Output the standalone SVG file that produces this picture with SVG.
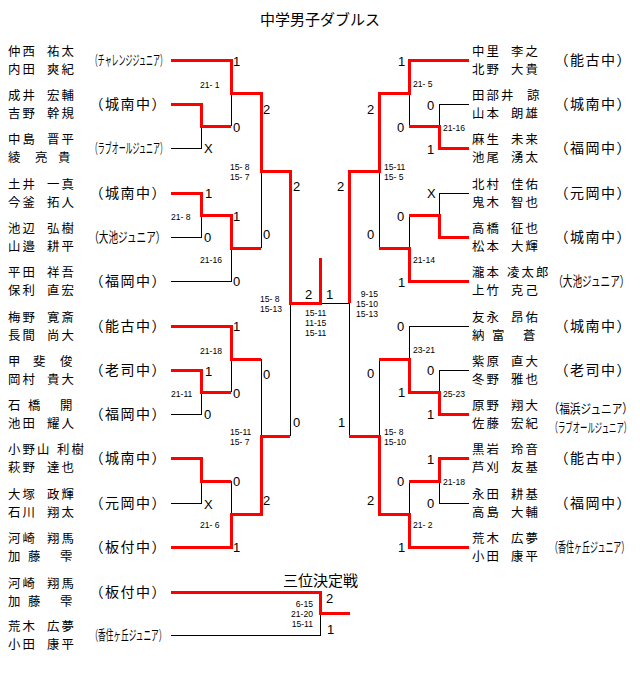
<svg xmlns="http://www.w3.org/2000/svg" width="640" height="697" viewBox="0 0 640 697" xml:space="preserve">
<style>
.r{stroke:#f00;stroke-width:3;fill:none;stroke-linejoin:miter}
.k{stroke:#000;stroke-width:1;fill:none}
.nm{font-family:"Noto Sans CJK JP","Noto Sans CJK SC",sans-serif;font-size:12.4px;letter-spacing:2.1px;fill:#000}
.tm{font-family:"Noto Sans CJK JP","Noto Sans CJK SC",sans-serif;font-size:14px;letter-spacing:1.5px;fill:#000}
.tc{font-family:"Noto Sans CJK JP","Noto Sans CJK SC",sans-serif;font-size:14px;fill:#000}
.tc2{font-family:"Noto Sans CJK JP","Noto Sans CJK SC",sans-serif;font-size:13px;fill:#000}
.ttl{font-family:"Noto Sans CJK JP","Noto Sans CJK SC",sans-serif;font-size:15px;fill:#000}
.sc{font-family:"Liberation Sans",Arial,sans-serif;font-size:13px;fill:#000}
.ss{font-family:"Liberation Sans",Arial,sans-serif;font-size:8.6px;fill:#000}
.e{text-anchor:end}
</style>
<rect width="640" height="697" fill="#fff"/>
<text class="ttl" x="320" y="24.5" text-anchor="middle">中学男子ダブルス</text>

<g id="connectors" shape-rendering="crispEdges">
<path class="k" d="M171,148H201V126M231,93V126M171,237H201V215M171,281H231V248M261,171V248M290,303V436M231,359V392M171,414H201V392M261,359V436M171,503H201V481M231,481V514M320,303H349M349,303V436"/>
<path class="k" d="M469,104H439V126M409,93V126M469,193H439V215M409,215V248M379,171V248M469,326H409V359M469,370H439V392M379,359V436M469,503H439V481M409,481V514"/>
<path class="k" d="M171,635H320V613"/>
<path class="r" d="M171,60H231V93H261V171H290V303H320V258"/>
<path class="r" d="M171,104H201V126H231"/>
<path class="r" d="M171,193H201V215H231V248H261"/>
<path class="r" d="M171,326H231V359H261"/>
<path class="r" d="M171,370H201V392H231"/>
<path class="r" d="M171,458H201V481H231"/>
<path class="r" d="M171,547H231V514H261V436H290"/>
<path class="r" d="M469,60H409V93H379V171H349V303"/>
<path class="r" d="M469,148H439V126H409"/>
<path class="r" d="M469,237H439V215H409"/>
<path class="r" d="M469,281H409V248H379"/>
<path class="r" d="M469,414H439V392H409V359H379"/>
<path class="r" d="M469,458H439V481H409"/>
<path class="r" d="M469,547H409V514H379V436H349"/>
<path class="r" d="M171,592H320V613H350"/>
</g>

<g id="L1"><text class="nm" x="8" y="56">仲西<tspan x="47">祐太</tspan></text><text class="nm" x="8" y="74">内田<tspan x="47">爽紀</tspan></text><text class="tc" transform="translate(90.8,65.3) scale(0.498,1)">（チャレンジジュニア）</text></g>
<g id="L2"><text class="nm" x="8" y="100">成井<tspan x="47">宏輔</tspan></text><text class="nm" x="8" y="118">吉野<tspan x="47">幹規</tspan></text><text class="tm" x="89.5" y="109.3">（城南中）</text></g>
<g id="L3"><text class="nm" x="8" y="144">中島<tspan x="47">晋平</tspan></text><text class="nm" x="8" y="162">綾<tspan x="35">亮</tspan><tspan x="58">貴</tspan></text><text class="tc" transform="translate(90.8,153.3) scale(0.498,1)">（ラブオールジュニア）</text></g>
<g id="L4"><text class="nm" x="8" y="189">土井<tspan x="47">一真</tspan></text><text class="nm" x="8" y="207">今釜<tspan x="47">拓人</tspan></text><text class="tm" x="89.5" y="198.3">（城南中）</text></g>
<g id="L5"><text class="nm" x="8" y="233">池辺<tspan x="47">弘樹</tspan></text><text class="nm" x="8" y="251">山邉<tspan x="47">耕平</tspan></text><text class="tc" transform="translate(89.2,242.3) scale(0.688,1)">（大池ジュニア）</text></g>
<g id="L6"><text class="nm" x="8" y="277">平田<tspan x="47">祥吾</tspan></text><text class="nm" x="8" y="295">保利<tspan x="47">直宏</tspan></text><text class="tm" x="89.5" y="286.3">（福岡中）</text></g>
<g id="L7"><text class="nm" x="8" y="322">梅野<tspan x="47">寛斎</tspan></text><text class="nm" x="8" y="340">長間<tspan x="47">尚大</tspan></text><text class="tm" x="89.5" y="331.3">（能古中）</text></g>
<g id="L8"><text class="nm" x="8" y="366">甲<tspan x="33">斐</tspan><tspan x="60">俊</tspan></text><text class="nm" x="8" y="384">岡村<tspan x="47">貴大</tspan></text><text class="tm" x="89.5" y="375.3">（老司中）</text></g>
<g id="L9"><text class="nm" x="8" y="410">石<tspan x="28">橋</tspan><tspan x="60">開</tspan></text><text class="nm" x="8" y="428">池田<tspan x="47">耀人</tspan></text><text class="tm" x="89.5" y="419.3">（福岡中）</text></g>
<g id="L10"><text class="nm" x="8" y="454">小野山<tspan x="57">利樹</tspan></text><text class="nm" x="8" y="472">萩野<tspan x="47">達也</tspan></text><text class="tm" x="89.5" y="463.3">（城南中）</text></g>
<g id="L11"><text class="nm" x="8" y="499">大塚<tspan x="47">政輝</tspan></text><text class="nm" x="8" y="517">石川<tspan x="47">翔太</tspan></text><text class="tm" x="89.5" y="508.3">（元岡中）</text></g>
<g id="L12"><text class="nm" x="8" y="543">河崎<tspan x="47">翔馬</tspan></text><text class="nm" x="8" y="561">加<tspan x="28">藤</tspan><tspan x="60">雫</tspan></text><text class="tm" x="89.5" y="552.3">（板付中）</text></g>

<g id="R1"><text class="nm" x="472" y="56">中里<tspan x="511">李之</tspan></text><text class="nm" x="472" y="74">北野<tspan x="511">大貴</tspan></text><text class="tm" x="554.5" y="65.3">（能古中）</text></g>
<g id="R2"><text class="nm" x="472" y="100">田部井<tspan x="527">諒</tspan></text><text class="nm" x="472" y="118">山本<tspan x="511">朗雄</tspan></text><text class="tm" x="554.5" y="109.3">（城南中）</text></g>
<g id="R3"><text class="nm" x="472" y="144">麻生<tspan x="511">未来</tspan></text><text class="nm" x="472" y="162">池尾<tspan x="511">湧太</tspan></text><text class="tm" x="554.5" y="153.3">（福岡中）</text></g>
<g id="R4"><text class="nm" x="472" y="189">北村<tspan x="511">佳佑</tspan></text><text class="nm" x="472" y="207">鬼木<tspan x="511">智也</tspan></text><text class="tm" x="554.5" y="198.3">（元岡中）</text></g>
<g id="R5"><text class="nm" x="472" y="233">高橋<tspan x="511">征也</tspan></text><text class="nm" x="472" y="251">松本<tspan x="511">大輝</tspan></text><text class="tm" x="554.5" y="242.3">（城南中）</text></g>
<g id="R6"><text class="nm" x="472" y="277">瀧本<tspan x="507">凌太郎</tspan></text><text class="nm" x="472" y="295">上竹<tspan x="511">克己</tspan></text><text class="tc" transform="translate(553.2,286.3) scale(0.688,1)">（大池ジュニア）</text></g>
<g id="R7"><text class="nm" x="472" y="322">友永<tspan x="511">昂佑</tspan></text><text class="nm" x="472" y="340">納<tspan x="492">富</tspan><tspan x="523">蒼</tspan></text><text class="tm" x="554.5" y="331.3">（城南中）</text></g>
<g id="R8"><text class="nm" x="472" y="366">紫原<tspan x="511">直大</tspan></text><text class="nm" x="472" y="384">冬野<tspan x="511">雅也</tspan></text><text class="tm" x="554.5" y="375.3">（老司中）</text></g>
<g id="R9"><text class="nm" x="472" y="410">原野<tspan x="511">翔大</tspan></text><text class="nm" x="472" y="428">佐藤<tspan x="511">宏紀</tspan></text><text class="tc2" transform="translate(548.5,413) scale(0.821,1)">（福浜ジュニア）</text><text class="tc2" transform="translate(550.5,432) scale(0.568,1)">（ラブオールジュニア）</text></g>
<g id="R10"><text class="nm" x="472" y="454">黒岩<tspan x="511">玲音</tspan></text><text class="nm" x="472" y="472">芦刈<tspan x="511">友基</tspan></text><text class="tm" x="554.5" y="463.3">（能古中）</text></g>
<g id="R11"><text class="nm" x="472" y="499">永田<tspan x="511">耕基</tspan></text><text class="nm" x="472" y="517">高島<tspan x="511">大輔</tspan></text><text class="tm" x="554.5" y="508.3">（福岡中）</text></g>
<g id="R12"><text class="nm" x="472" y="543">荒木<tspan x="511">広夢</tspan></text><text class="nm" x="472" y="561">小田<tspan x="511">康平</tspan></text><text class="tc" transform="translate(550.1,552.3) scale(0.571,1)">（香住ヶ丘ジュニア）</text></g>

<g id="T1"><text class="nm" x="8" y="588">河崎<tspan x="47">翔馬</tspan></text><text class="nm" x="8" y="606">加<tspan x="28">藤</tspan><tspan x="60">雫</tspan></text><text class="tm" x="89.5" y="597.3">（板付中）</text></g>
<g id="T2"><text class="nm" x="8" y="631">荒木<tspan x="47">広夢</tspan></text><text class="nm" x="8" y="649">小田<tspan x="47">康平</tspan></text><text class="tc" transform="translate(90.4,640.3) scale(0.547,1)">（香住ヶ丘ジュニア）</text></g>
<text class="ttl" x="283" y="585.5">三位決定戦</text>

<g id="scores">
<text class="sc" x="233" y="65.7">1</text><text class="sc" x="233" y="131.7">0</text><text class="sc" x="204" y="152.7">X</text><text class="sc" x="263" y="113.7">2</text><text class="sc" x="293" y="190.7">2</text><text class="sc" x="205" y="197.7">1</text><text class="sc" x="233" y="220.7">1</text><text class="sc" x="204" y="241.7">0</text><text class="sc" x="263" y="238.7">0</text><text class="sc" x="233" y="285.7">0</text><text class="sc" x="233" y="330.7">1</text><text class="sc" x="205" y="375.7">1</text><text class="sc" x="263" y="378.7">0</text><text class="sc" x="233" y="397.7">0</text><text class="sc" x="204" y="418.7">0</text><text class="sc" x="293" y="426.7">0</text><text class="sc" x="233" y="485.7">0</text><text class="sc" x="204" y="508.7">X</text><text class="sc" x="263" y="504.7">2</text><text class="sc" x="233" y="551.7">1</text>
<text class="sc" x="305" y="298.7">2</text><text class="sc" x="326" y="298.7">1</text>
<text class="sc" x="398" y="65.7">1</text><text class="sc" x="367" y="113.7">2</text><text class="sc" x="397" y="131.7">0</text><text class="sc" x="427" y="109.7">0</text><text class="sc" x="427" y="153.7">1</text><text class="sc" x="427" y="197.7">X</text><text class="sc" x="337" y="190.7">2</text><text class="sc" x="397" y="220.7">0</text><text class="sc" x="367" y="238.7">0</text><text class="sc" x="398" y="286.7">1</text><text class="sc" x="397" y="330.7">0</text><text class="sc" x="367" y="377.7">0</text><text class="sc" x="427" y="374.7">0</text><text class="sc" x="398" y="396.7">1</text><text class="sc" x="427" y="418.7">1</text><text class="sc" x="338" y="426.7">1</text><text class="sc" x="427" y="463.7">1</text><text class="sc" x="397" y="485.7">0</text><text class="sc" x="427" y="507.7">0</text><text class="sc" x="367" y="504.7">2</text><text class="sc" x="398" y="551.7">1</text>
<text class="sc" x="326" y="602.7">2</text><text class="sc" x="327" y="633.7">1</text>
<text class="ss" x="200" y="87.5">21- 1</text><text class="ss" x="230" y="170">15- 8</text><text class="ss" x="230" y="180">15- 7</text><text class="ss" x="171" y="219.5">21- 8</text><text class="ss" x="200" y="262.5">21-16</text><text class="ss" x="260" y="302">15- 8</text><text class="ss" x="260" y="312">15-13</text><text class="ss" x="200" y="353.5">21-18</text><text class="ss" x="171" y="396.5">21-11</text><text class="ss" x="230" y="435">15-11</text><text class="ss" x="230" y="445">15- 7</text><text class="ss" x="200" y="527.5">21- 6</text>
<text class="ss" x="305" y="316">15-11</text><text class="ss" x="305" y="326">11-15</text><text class="ss" x="305" y="336">15-11</text>
<text class="ss e" x="378" y="297">9-15</text><text class="ss e" x="378" y="307">15-10</text><text class="ss e" x="378" y="317">15-13</text>
<text class="ss" x="413" y="86.5">21- 5</text><text class="ss" x="443" y="130.5">21-16</text><text class="ss" x="384" y="170">15-11</text><text class="ss" x="384" y="180">15- 5</text><text class="ss" x="413" y="262.5">21-14</text><text class="ss" x="413" y="352.5">23-21</text><text class="ss" x="443" y="396.5">25-23</text><text class="ss" x="384" y="435">15- 8</text><text class="ss" x="384" y="445">15-10</text><text class="ss" x="443" y="484.5">21-18</text><text class="ss" x="413" y="527.5">21- 2</text>
<text class="ss e" x="313" y="607">6-15</text><text class="ss e" x="313" y="617">21-20</text><text class="ss e" x="313" y="627">15-11</text>
</g>
</svg>
